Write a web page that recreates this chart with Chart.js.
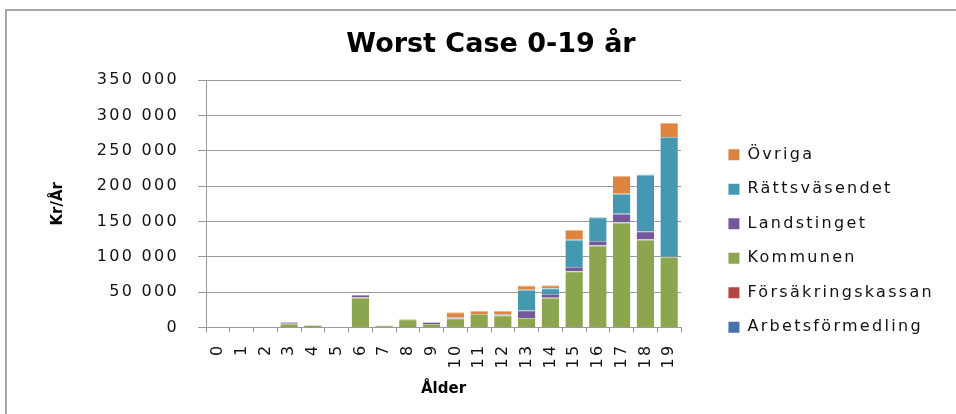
<!DOCTYPE html>
<html lang="sv">
<head>
<meta charset="utf-8">
<title>Worst Case 0-19 år</title>
<script src="https://cdn.jsdelivr.net/npm/chart.js@4/dist/chart.umd.min.js"></script>
<style>
  html, body { margin: 0; padding: 0; width: 956px; height: 414px; overflow: hidden; background: #fff; }
  #frame { position: absolute; left: 5px; top: 9px; width: 1200px; height: 900px; border: 2px solid #a6a6a6; box-sizing: border-box; }
  #wrap { position: absolute; left: 0; top: 0; width: 956px; height: 482px; }
</style>
</head>
<body>
<div id="frame"></div>
<div id="wrap"><canvas id="chart" width="956" height="482"></canvas></div>
<script>
// Ålder (år)
const ages = ['0','1','2','3','4','5','6','7','8','9','10','11','12','13','14','15','16','17','18','19'];

// Kostnad per år (kr), per huvudman
const arbetsformedling  = [0,0,0,0,0,0,0,0,0,0,0,0,0,0,0,0,0,0,0,0];
const forsakringskassan = [0,0,0,0,0,0,0,0,0,0,0,0,0,0,0,0,0,0,0,0];
const kommunen          = [0,0,0,5200,3300,0,42500,3000,11700,5000,13000,19000,17200,13500,42000,79500,116000,148500,124500,100000];
const landstinget       = [0,0,0,2300,0,800,3500,0,0,2500,1500,0,1600,11000,5500,6000,6500,12500,11500,0];
const rattsvasendet     = [0,0,0,0,0,0,0,0,0,0,0,0,0,29000,8000,38500,33500,28000,80500,169500];
const ovriga            = [0,0,0,0,0,0,0,0,0,0,7000,4500,4700,6000,4200,14000,0,25500,0,20000];

// Y-axelns etiketter
const yTickLabels = ['0','50 000','100 000','150 000','200 000','250 000','300 000','350 000'];

const LABEL_SPACING = '2.3px';
const GRID = '#9a9a9a';
const PLOT_RIGHT = 681;
const PAD_LEFT = 38;
const PAD_RIGHT = 12;

Chart.defaults.font.family = "'DejaVu Sans', sans-serif";
Chart.defaults.color = '#111';

// Wide letter spacing for tick and legend labels
const spacedLabels = {
  id: 'spacedLabels',
  beforeUpdate(chart) { chart.ctx.letterSpacing = LABEL_SPACING; },
  beforeRender(chart) { chart.ctx.letterSpacing = LABEL_SPACING; },
  beforeDraw(chart) { chart.ctx.letterSpacing = LABEL_SPACING; }
};

// Each segment gets a thin lighter edge on top
function ds(label, data, color, edge) {
  return { label, data, backgroundColor: color, borderColor: edge,
           borderWidth: { top: 1, right: 0, bottom: 0, left: 0 }, borderSkipped: 'start',
           yAxisID: 'y', categoryPercentage: 0.8, barPercentage: 0.92 };
}

const chart = new Chart(document.getElementById('chart'), {
  type: 'bar',
  data: {
    labels: ages,
    datasets: [
      ds('Arbetsförmedling', arbetsformedling, '#4673ac', '#90abcd'),
      ds('Försäkringskassan', forsakringskassan, '#b14643', '#d0908e'),
      ds('Kommunen', kommunen, '#8ba64f', '#b9ca95'),
      ds('Landstinget', landstinget, '#74589a', '#ac9bc2'),
      ds('Rättsväsendet', rattsvasendet, '#4499b1', '#8fc2d0'),
      ds('Övriga', ovriga, '#de843f', '#ebb58c')
    ]
  },
  options: {
    responsive: false,
    maintainAspectRatio: false,
    animation: false,
    layout: { padding: { left: PAD_LEFT, right: PAD_RIGHT, top: 0, bottom: 0 } },
    plugins: {
      tooltip: { enabled: false },
      title: {
        display: true,
        text: 'Worst Case 0-19 år',
        color: '#000',
        font: { size: 27, weight: 'bold' },
        padding: { top: 29, bottom: 18.6 }
      },
      legend: {
        position: 'right',
        align: 'center',
        reverse: true,
        maxWidth: 400,
        labels: {
          boxWidth: 11,
          boxHeight: 11,
          padding: 18.5,
          color: '#111',
          font: { size: 16 },
          generateLabels(chart) {
            return Chart.defaults.plugins.legend.labels.generateLabels(chart).map(item => {
              item.lineWidth = 0;
              item.strokeStyle = item.fillStyle;
              return item;
            });
          }
        }
      }
    },
    scales: {
      x: {
        stacked: true,
        offset: true,
        grid: { display: true, offset: true, drawOnChartArea: false, drawTicks: true, tickLength: 5, color: GRID },
        border: { display: true, color: GRID, width: 1 },
        ticks: { minRotation: 90, maxRotation: 90, padding: 11, font: { size: 16 }, color: '#111', autoSkip: false },
        title: { display: true, text: 'Ålder', color: '#000', font: { size: 15, weight: 'bold' }, padding: { top: 0, bottom: 84 } },
        afterFit(scale) { scale.height = 154.5; }
      },
      y: {
        stacked: true,
        min: 0,
        max: 350000,
        position: 'left',
        grid: { color: GRID, lineWidth: 1, drawTicks: true, tickLength: 8 },
        border: { display: true, color: GRID, width: 1 },
        ticks: {
          stepSize: 50000,
          padding: 19,
          font: { size: 16 },
          color: '#111',
          callback: (value, index) => yTickLabels[index]
        },
        title: { display: true, text: 'Kr/År', color: '#000', font: { size: 15, weight: 'bold' }, padding: { top: 11.5, bottom: 0 } },
        afterFit(scale) { scale.width = 206 - PAD_LEFT; }
      },
      // spacing between plot area and legend
      gap: {
        type: 'linear',
        position: 'right',
        display: true,
        grid: { display: false, drawTicks: false },
        border: { display: false },
        ticks: { display: false },
        afterFit(scale) {
          const legend = scale.chart.legend;
          scale.width = legend ? Math.max(0, scale.chart.width - PAD_RIGHT - legend.width - PLOT_RIGHT) : 0;
        }
      }
    }
  },
  plugins: [spacedLabels]
});

// Titles are drawn without the extra letter spacing
function plainText(target, method) {
  const original = target[method];
  target[method] = function (...args) {
    const ctx = this.ctx;
    const prev = ctx.letterSpacing;
    ctx.letterSpacing = '0px';
    const result = original.apply(this, args);
    ctx.letterSpacing = prev;
    return result;
  };
}
plainText(chart.titleBlock, 'draw');
plainText(chart.scales.x, 'drawTitle');
plainText(chart.scales.y, 'drawTitle');
chart.update();
</script>
</body>
</html>
